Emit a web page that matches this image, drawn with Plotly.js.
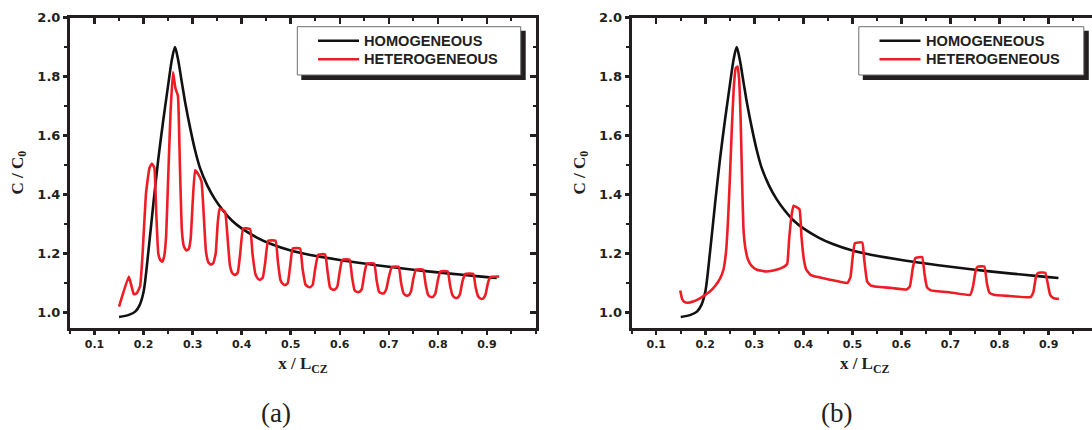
<!DOCTYPE html>
<html>
<head>
<meta charset="utf-8">
<script src="https://cdn.plot.ly/plotly-3.0.1.min.js"></script>
<style>
html,body{margin:0;padding:0;overflow:hidden;background:#fff;}
#chart{width:1100px;height:430px;}
</style>
</head>
<body>
<div id="chart"></div>
<script>
// ---------- data ----------
var seriesNames = ["HOMOGENEOUS", "HETEROGENEOUS"];
var panelLabels = ["(a)", "(b)"];
var xTickVals = [0.1, 0.2, 0.3, 0.4, 0.5, 0.6, 0.7, 0.8, 0.9];
var yTickVals = [1.0, 1.2, 1.4, 1.6, 1.8, 2.0];

var homX = [0.15,0.17,0.183,0.192,0.2,0.21,0.22,0.23,0.24,0.25,0.258,0.264,0.27,0.278,0.285,0.295,0.305,0.315,0.33,0.345,0.36,0.38,0.4,0.43,0.46,0.5,0.54,0.6,0.65,0.7,0.75,0.8,0.85,0.9,0.92];
var homY = [0.985,0.992,1.003,1.025,1.07,1.21,1.37,1.52,1.65,1.77,1.86,1.9,1.86,1.78,1.71,1.625,1.55,1.49,1.43,1.385,1.35,1.312,1.285,1.255,1.232,1.21,1.195,1.178,1.166,1.155,1.145,1.136,1.128,1.12,1.117];

var hetAX = [0.15,0.17,0.18,0.186,0.193,0.198,0.205,0.212,0.217,0.222,0.226,0.230,0.234,0.238,0.242,0.246,0.250,0.255,0.260,0.265,0.270,0.274,0.278,0.282,0.287,0.292,0.296,0.300,0.305,0.311,0.318,0.322,0.327,0.332,0.337,0.342,0.347,0.351,0.355,0.366,0.370,0.376,0.381,0.387,0.392,0.397,0.403,0.417,0.422,0.428,0.433,0.438,0.443,0.448,0.454,0.469,0.474,0.479,0.484,0.489,0.494,0.499,0.504,0.519,0.524,0.53,0.535,0.54,0.545,0.55,0.556,0.57,0.575,0.58,0.585,0.59,0.595,0.6,0.605,0.62,0.625,0.63,0.635,0.64,0.645,0.65,0.655,0.67,0.675,0.68,0.685,0.69,0.695,0.7,0.706,0.72,0.725,0.73,0.735,0.74,0.745,0.75,0.755,0.77,0.775,0.78,0.785,0.79,0.795,0.8,0.805,0.82,0.825,0.83,0.835,0.84,0.845,0.85,0.856,0.872,0.877,0.882,0.887,0.892,0.897,0.902,0.907,0.925];
var hetAY = [1.02,1.122,1.062,1.065,1.09,1.2,1.405,1.49,1.505,1.49,1.33,1.2,1.178,1.172,1.19,1.26,1.45,1.68,1.815,1.76,1.735,1.5,1.28,1.225,1.21,1.215,1.25,1.37,1.482,1.47,1.445,1.35,1.21,1.17,1.162,1.167,1.2,1.3,1.352,1.342,1.28,1.16,1.133,1.127,1.135,1.2,1.285,1.283,1.2,1.13,1.115,1.111,1.118,1.17,1.243,1.243,1.17,1.11,1.097,1.093,1.1,1.16,1.217,1.217,1.15,1.095,1.088,1.086,1.095,1.15,1.196,1.197,1.14,1.085,1.078,1.078,1.088,1.14,1.179,1.179,1.12,1.076,1.07,1.07,1.08,1.13,1.165,1.166,1.11,1.07,1.065,1.065,1.08,1.12,1.154,1.155,1.1,1.065,1.058,1.058,1.07,1.115,1.145,1.145,1.095,1.06,1.053,1.053,1.065,1.11,1.139,1.139,1.09,1.058,1.05,1.05,1.062,1.105,1.131,1.131,1.085,1.055,1.047,1.047,1.06,1.1,1.12,1.122];

var hetBX = [0.149,0.153,0.158,0.165,0.175,0.189,0.2,0.21,0.22,0.23,0.237,0.242,0.246,0.25,0.254,0.258,0.262,0.266,0.269,0.272,0.275,0.278,0.282,0.287,0.295,0.305,0.325,0.345,0.36,0.367,0.371,0.376,0.38,0.392,0.396,0.401,0.406,0.415,0.43,0.455,0.475,0.49,0.496,0.5,0.505,0.52,0.524,0.53,0.537,0.55,0.58,0.61,0.617,0.623,0.628,0.642,0.647,0.652,0.66,0.7,0.74,0.746,0.751,0.755,0.769,0.774,0.779,0.788,0.82,0.863,0.869,0.874,0.878,0.893,0.898,0.903,0.91,0.921];
var hetBY = [1.075,1.045,1.035,1.033,1.037,1.048,1.06,1.072,1.09,1.115,1.145,1.2,1.3,1.45,1.62,1.76,1.828,1.834,1.79,1.66,1.45,1.28,1.215,1.18,1.157,1.145,1.139,1.145,1.155,1.165,1.25,1.33,1.362,1.35,1.26,1.18,1.145,1.127,1.12,1.111,1.104,1.1,1.12,1.18,1.235,1.237,1.18,1.105,1.092,1.087,1.083,1.078,1.088,1.15,1.184,1.188,1.13,1.085,1.075,1.068,1.06,1.09,1.14,1.155,1.156,1.1,1.068,1.06,1.056,1.052,1.07,1.12,1.134,1.135,1.1,1.06,1.049,1.046];

// ---------- geometry / style ----------
var W = 1100, H = 430;
function px(x){ return x / W; }
function py(y){ return 1 - y / H; }
var ink = '#231f20';
var blackLine = '#111111';
var redLine = '#ee1c25';
var tickFontX = {family:'DejaVu Sans', size:11, weight:'bold', color:ink};
var tickFontY = {family:'DejaVu Sans', size:13, weight:'bold', color:ink};
var titleFont = {family:'Liberation Serif', size:17, weight:'bold', color:ink};
var xRange = [0.05, 1.0];
var yRange = [0.9485, 2.0];
var yDom = [py(327.7), py(17.5)];
var xDomA = [px(70), px(536)];
var xDomB = [px(631.7), px(1097.7)];

function baseX(dom, anchor){
  return {domain:dom, anchor:anchor, range:xRange, showgrid:false, zeroline:false,
    showline:true, mirror:true, linewidth:3, linecolor:ink,
    tickmode:'array', tickvals:xTickVals, tickformat:'.1f',
    ticks:'outside', ticklen:4, tickwidth:2.5, tickcolor:ink, tickfont:tickFontX,
    minor:{tickmode:'linear', tick0:0.05, dtick:0.05, ticks:'outside', ticklen:3, tickwidth:2, tickcolor:ink},
    title:{text:'<b>x / L<sub>CZ</sub></b>', font:titleFont, standoff:8}};
}
function baseY(anchor){
  return {domain:yDom, anchor:anchor, range:yRange, showgrid:false, zeroline:false,
    showline:true, mirror:true, linewidth:3, linecolor:ink,
    tickmode:'array', tickvals:yTickVals, tickformat:'.1f',
    ticks:'outside', ticklen:4, tickwidth:2.5, tickcolor:ink, tickfont:tickFontY,
    minor:{tickmode:'linear', tick0:1.0, dtick:0.1, ticks:'outside', ticklen:3, tickwidth:2, tickcolor:ink},
    title:{text:'<b>C / C<sub>0</sub></b>', font:titleFont, standoff:10}};
}
function overX(over, anchor){
  return {overlaying:over, anchor:anchor, side:'top', range:xRange, showgrid:false, zeroline:false,
    showline:false, showticklabels:false, tickmode:'linear', tick0:0.1, dtick:0.1,
    ticks:'inside', ticklen:6, tickwidth:2.5, tickcolor:ink,
    minor:{tickmode:'linear', tick0:0.05, dtick:0.05, ticks:'inside', ticklen:3, tickwidth:2, tickcolor:ink}};
}
function overY(over, anchor){
  return {overlaying:over, anchor:anchor, side:'right', range:yRange, showgrid:false, zeroline:false,
    showline:false, showticklabels:false, tickmode:'linear', tick0:1.0, dtick:0.2,
    ticks:'inside', ticklen:6, tickwidth:2.5, tickcolor:ink,
    minor:{tickmode:'linear', tick0:1.0, dtick:0.1, ticks:'inside', ticklen:3, tickwidth:2, tickcolor:ink}};
}

var homLine = {color:blackLine, width:2.6, shape:'spline', smoothing:0.8};
var hetLine = {color:redLine, width:2.6, shape:'spline', smoothing:0.35};
var traces = [
  {x:homX, y:homY, xaxis:'x', yaxis:'y', mode:'lines', name:seriesNames[0], showlegend:false, line:homLine},
  {x:hetAX, y:hetAY, xaxis:'x3', yaxis:'y3', mode:'lines', name:seriesNames[1], showlegend:false, line:hetLine},
  {x:homX, y:homY, xaxis:'x2', yaxis:'y2', mode:'lines', name:seriesNames[0], showlegend:false, line:homLine},
  {x:hetBX, y:hetBY, xaxis:'x4', yaxis:'y4', mode:'lines', name:seriesNames[1], showlegend:false, line:hetLine}
];

// ---------- legends (drawn as boxes) ----------
var shapes = [], annotations = [];
function legendAt(dx){
  var L = 297.3 + dx, T = 26.7, R = 520.7 + dx + (dx ? 1.6 : 0), B = 75;
  shapes.push({type:'rect', xref:'paper', yref:'paper', x0:px(L+4), x1:px(R+5), y0:py(B+5), y1:py(T+4),
    fillcolor:'#231f20', line:{width:0}, layer:'above'});
  shapes.push({type:'rect', xref:'paper', yref:'paper', x0:px(L), x1:px(R), y0:py(B), y1:py(T),
    fillcolor:'#ffffff', line:{color:'#6d6d6d', width:1}, layer:'above'});
  var rows = [40.7, 59.3], cols = [blackLine, redLine];
  for (var i = 0; i < 2; i++){
    shapes.push({type:'line', xref:'paper', yref:'paper', x0:px(318+dx), x1:px(359+dx), y0:py(rows[i]), y1:py(rows[i]),
      line:{color:cols[i], width:2.5}, layer:'above'});
    annotations.push({xref:'paper', yref:'paper', x:px(362+dx), y:py(rows[i]), xanchor:'left', yanchor:'middle',
      text:seriesNames[i], showarrow:false,
      font:{family:'Liberation Sans', size:14.6, weight:'bold', color:ink}});
  }
}
legendAt(0);
legendAt(561.5);

annotations.push({xref:'paper', yref:'paper', x:px(276), y:py(413), xanchor:'center', yanchor:'middle',
  text:panelLabels[0], showarrow:false, font:{family:'Liberation Serif', size:27, color:ink}});
annotations.push({xref:'paper', yref:'paper', x:px(836), y:py(413), xanchor:'center', yanchor:'middle',
  text:panelLabels[1], showarrow:false, font:{family:'Liberation Serif', size:27, color:ink}});

var layout = {
  width:W, height:H, margin:{l:0, r:0, t:0, b:0, pad:0},
  paper_bgcolor:'#ffffff', plot_bgcolor:'rgba(0,0,0,0)', showlegend:false,
  xaxis:baseX(xDomA, 'y'), yaxis:baseY('x'),
  xaxis2:baseX(xDomB, 'y2'), yaxis2:baseY('x2'),
  xaxis3:overX('x', 'y3'), yaxis3:overY('y', 'x3'),
  xaxis4:overX('x2', 'y4'), yaxis4:overY('y2', 'x4'),
  shapes:shapes, annotations:annotations
};

Plotly.newPlot('chart', traces, layout, {displayModeBar:false, staticPlot:true});
</script>
</body>
</html>
